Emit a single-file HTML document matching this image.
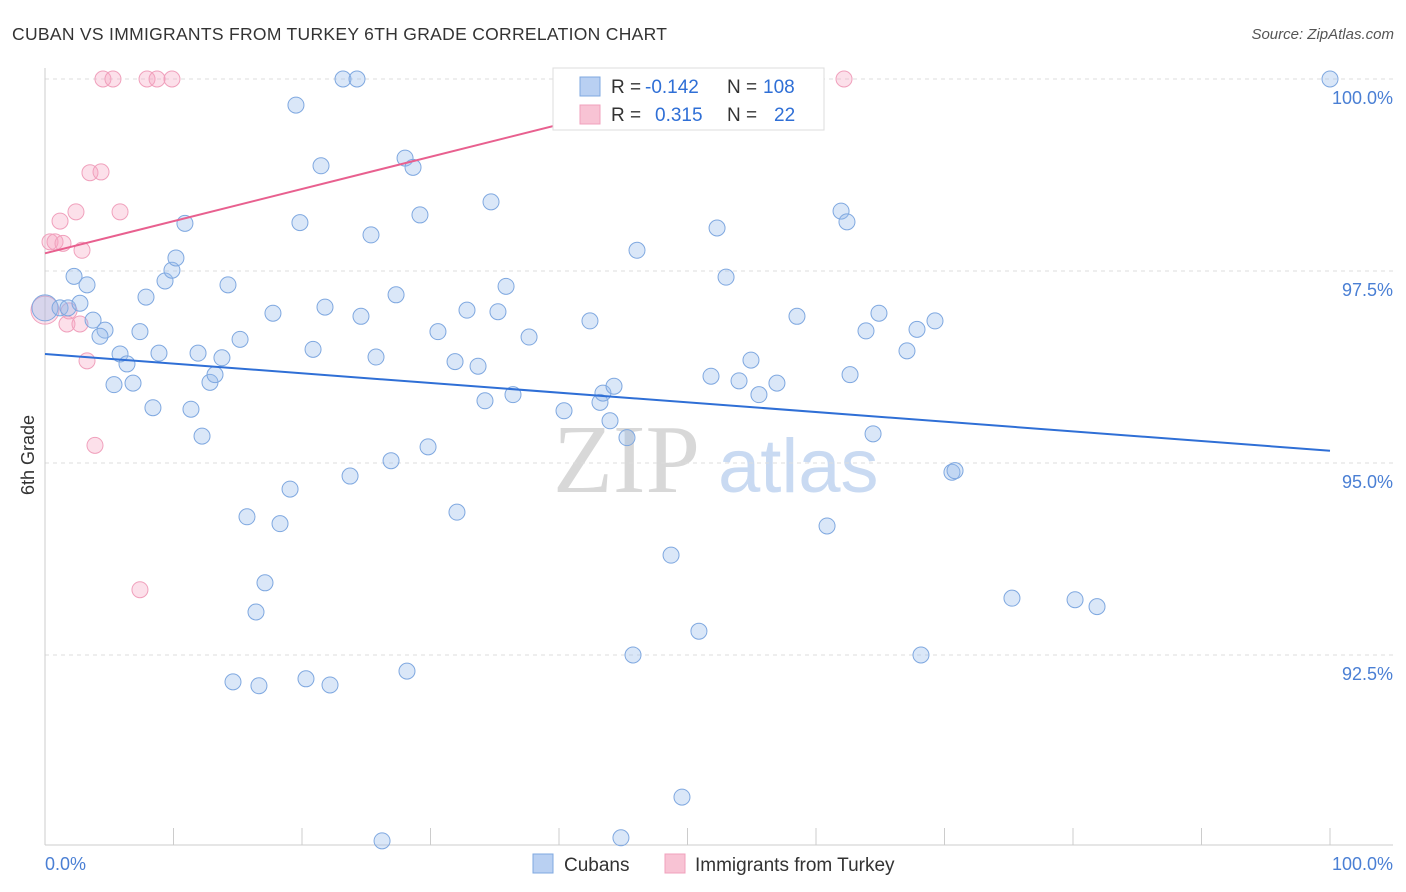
<!DOCTYPE html>
<html><head><meta charset="utf-8">
<style>
body{margin:0;background:#fff;font-family:"Liberation Sans",sans-serif;}
svg{display:block}
</style></head>
<body>
<svg id="chart" width="1406" height="892" viewBox="0 0 1406 892" xmlns="http://www.w3.org/2000/svg">
<text x="12" y="40" font-size="17.5" fill="#333" letter-spacing="0.3">CUBAN VS IMMIGRANTS FROM TURKEY 6TH GRADE CORRELATION CHART</text>
<text x="1394" y="39" font-size="15" fill="#555" font-style="italic" text-anchor="end">Source: ZipAtlas.com</text>
<g>
<text x="553" y="492" font-family="Liberation Serif,serif" font-size="98" fill="#d8d8d8">ZIP</text>
<text x="718" y="492" font-size="76" fill="#c9daf2">atlas</text>
</g>
<g id="grid"></g>
<g id="axes"></g>
<g id="marks"></g>
<g>
<rect x="553" y="68" width="271" height="62" fill="#fff" stroke="#ddd"/>
<rect x="580" y="77" width="20" height="19" fill="#b9d0f2" stroke="#7fa8e0"/>
<rect x="580" y="105" width="20" height="19" fill="#f8c3d4" stroke="#f0a0bc"/>
<text x="611" y="93" font-size="19" fill="#333">R =</text>
<text x="645" y="93" font-size="19" fill="#2f6fd6">-0.142</text>
<text x="727" y="93" font-size="19" fill="#333">N =</text>
<text x="763" y="93" font-size="19" fill="#2f6fd6">108</text>
<text x="611" y="121" font-size="19" fill="#333">R =</text>
<text x="655" y="121" font-size="19" fill="#2f6fd6">0.315</text>
<text x="727" y="121" font-size="19" fill="#333">N =</text>
<text x="774" y="121" font-size="19" fill="#2f6fd6">22</text>
</g>
<g>
<rect x="533" y="854" width="20" height="19" fill="#b9d0f2" stroke="#7fa8e0"/>
<text x="564" y="871" font-size="19" fill="#333">Cubans</text>
<rect x="665" y="854" width="20" height="19" fill="#f8c3d4" stroke="#f0a0bc"/>
<text x="695" y="871" font-size="19" fill="#333">Immigrants from Turkey</text>
</g>
<text x="45" y="870" font-size="18" fill="#4a7fd4">0.0%</text>
<text x="1393" y="870" font-size="18" fill="#4a7fd4" text-anchor="end">100.0%</text>
<text transform="translate(34,455) rotate(-90)" font-size="18" fill="#333" text-anchor="middle">6th Grade</text>
</svg>
<script>
const yTicks=[100,97.5,95,92.5];
const yTickLabels=["100.0%","97.5%","95.0%","92.5%"];
const xTicks=[0,10,20,30,40,50,60,70,80,90,100];
const cubanX=[0,1.17,1.79,2.72,2.26,3.27,3.74,4.67,4.28,5.84,6.38,5.37,6.85,7.39,7.86,8.40,8.87,9.34,9.88,10.19,10.89,11.36,11.91,12.22,12.84,13.23,13.77,14.24,15.18,15.72,16.42,16.65,14.63,17.12,17.74,18.29,19.07,19.53,19.84,20.31,20.86,21.48,21.79,22.18,23.19,23.74,24.28,24.59,25.37,25.76,26.23,26.93,27.32,28.02,28.17,28.64,29.18,29.81,30.58,31.91,32.06,32.84,33.70,34.24,34.71,35.25,35.88,36.42,37.67,40.39,42.41,43.19,43.42,43.97,44.28,44.82,45.29,45.76,46.07,48.72,49.57,50.89,51.83,52.30,53.00,54.01,54.94,55.56,56.96,58.52,60.86,61.95,62.41,62.65,63.89,64.44,64.90,67.08,67.86,68.17,69.26,70.58,70.82,75.25,80.16,81.87,100];
const cubanY=[97.02,97.02,97.02,97.08,97.43,97.32,96.86,96.73,96.65,96.42,96.29,96.02,96.04,96.71,97.16,95.72,96.43,97.37,97.51,97.67,98.12,95.70,96.43,95.35,96.05,96.15,96.37,97.32,96.61,94.30,93.06,92.10,92.15,93.44,96.95,94.21,94.66,99.66,98.13,92.19,96.48,98.87,97.03,92.11,100,94.83,100,96.91,97.97,96.38,90.08,95.03,97.19,98.97,92.29,98.85,98.23,95.21,96.71,96.32,94.36,96.99,96.26,95.81,98.40,96.97,97.30,95.89,96.64,95.68,96.85,95.79,95.91,95.55,96.00,90.12,95.33,92.50,97.77,93.80,90.65,92.81,96.13,98.06,97.42,96.07,96.34,95.89,96.04,96.91,94.18,98.28,98.14,96.15,96.72,95.38,96.95,96.46,96.74,92.50,96.85,94.88,94.90,93.24,93.22,93.13,100];
const turkeyX=[4.51,5.29,7.94,8.72,9.88,62.18,3.50,4.36,1.17,2.41,5.84,0.39,0.78,1.40,2.88,1.87,1.71,2.72,3.27,3.89,7.39];
const turkeyY=[100,100,100,100,100,100,98.78,98.79,98.15,98.27,98.27,97.88,97.88,97.86,97.77,96.98,96.81,96.81,96.33,95.23,93.35];
const cubanTrend=[96.42,95.16];      // y at x=0 and x=100
const turkeyTrend=[97.73,0.0419];    // intercept, slope per x unit
const NS="http://www.w3.org/2000/svg";
const X0=45,X1=1330,YTOP=79,PPU=76.8,YBOT=845;
function sx(v){return X0+(X1-X0)*v/100;}
function sy(v){return YTOP+(100-v)*PPU;}
function mk(tag,attrs,parent){const e=document.createElementNS(NS,tag);for(const k in attrs)e.setAttribute(k,attrs[k]);parent.appendChild(e);return e;}
const grid=document.getElementById('grid'),axes=document.getElementById('axes'),marks=document.getElementById('marks');
yTicks.forEach((t,i)=>{
  const l=mk('line',{x1:X0,x2:1393,y1:sy(t),y2:sy(t),stroke:'#ddd','stroke-dasharray':'4,4'},grid);
  
  
  const tx=mk('text',{x:1393,y:sy(t)+25,'font-size':18,fill:'#4a7fd4','text-anchor':'end'},axes);
  tx.textContent=yTickLabels[i];
  
  
});
const ax=mk('line',{x1:X0,x2:1393,y1:YBOT,y2:YBOT,stroke:'#ccc'},axes);


const ay=mk('line',{x1:X0,x2:X0,y1:68,y2:YBOT,stroke:'#ccc'},axes);


xTicks.forEach(t=>{
  const l=mk('line',{x1:sx(t),x2:sx(t),y1:828,y2:YBOT,stroke:'#ccc'},axes);
  
  
});
turkeyX.forEach((x,i)=>{
  const big=(x===0&&i>=0)?0:0;
  const c=mk('circle',{cx:sx(x),cy:sy(turkeyY[i]),r:8,fill:'rgba(245,165,195,0.35)',stroke:'#f0a0bc','stroke-width':1},marks);
  
  
});
const bigP=mk('circle',{cx:sx(0),cy:sy(96.99),r:14,fill:'rgba(245,165,195,0.3)',stroke:'#f0a0bc'},marks);


cubanX.forEach((x,i)=>{
  const c=mk('circle',{cx:sx(x),cy:sy(cubanY[i]),r:(x===0?13:8),fill:'rgba(150,185,235,0.35)',stroke:'#7fa8e0','stroke-width':1},marks);
  
  
});
const bl=mk('line',{x1:sx(0),y1:sy(cubanTrend[0]),x2:sx(100),y2:sy(cubanTrend[1]),stroke:'#2f6fd6','stroke-width':2},marks);


const xe=(100-turkeyTrend[0])/turkeyTrend[1];
const pl=mk('line',{x1:sx(0),y1:sy(turkeyTrend[0]),x2:sx(xe),y2:sy(100),stroke:'#e8608f','stroke-width':2},marks);


</script>
</body></html>
